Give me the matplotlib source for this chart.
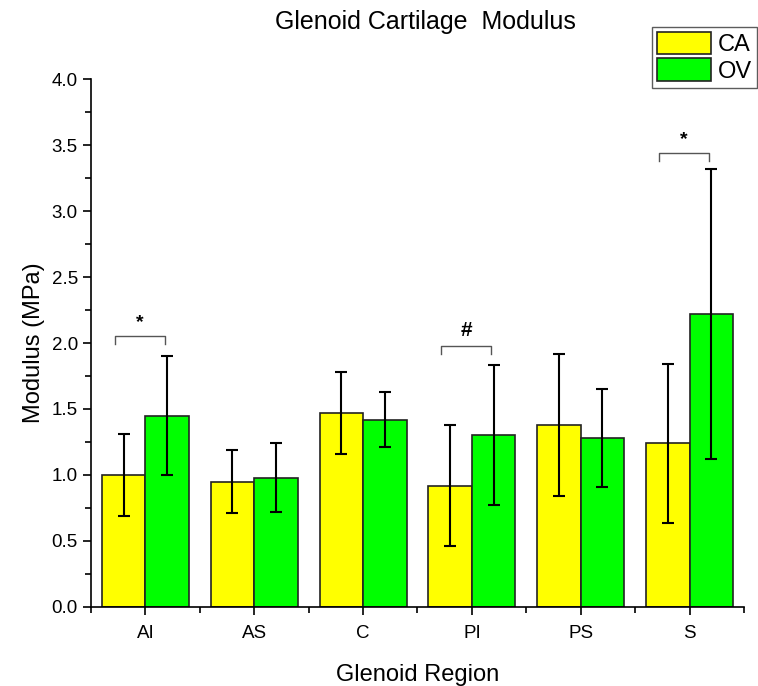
# Glenoid cartilage modulus, CA vs OV, grouped bars with SD error bars
import numpy as np
import matplotlib
matplotlib.use("Agg")
import matplotlib.pyplot as plt
from matplotlib.ticker import MultipleLocator

plt.rcParams['font.family'] = ['Liberation Sans', 'DejaVu Sans']

regions = ['AI', 'AS', 'C', 'PI', 'PS', 'S']
ca_mean = [1.00, 0.95, 1.47, 0.92, 1.38, 1.24]
ca_sd = [0.31, 0.24, 0.31, 0.46, 0.54, 0.60]
ov_mean = [1.45, 0.98, 1.42, 1.30, 1.28, 2.22]
ov_sd = [0.45, 0.26, 0.21, 0.53, 0.37, 1.10]

# significance markers: region index, bracket height, symbol
sig_idx = [0, 3, 5]
sig_y = [2.05, 1.98, 3.44]
sig_sym = ['*', '#', '*']

fig = plt.figure(figsize=(7.58, 6.86), dpi=100)
ax = fig.add_axes([0.12, 0.1152, 0.8615, 0.7696])

x = np.arange(len(regions))
w = 0.4
ax.bar(x - w/2, ca_mean, w, color='#ffff00', edgecolor='#222222', lw=1.2, label='CA', zorder=2)
ax.bar(x + w/2, ov_mean, w, color='#00ff00', edgecolor='#222222', lw=1.2, label='OV', zorder=2)
ax.errorbar(x - w/2, ca_mean, yerr=ca_sd, fmt='none', ecolor='black', elinewidth=1.5,
            capsize=4, capthick=1.5, zorder=3)
ax.errorbar(x + w/2, ov_mean, yerr=ov_sd, fmt='none', ecolor='black', elinewidth=1.5,
            capsize=4, capthick=1.5, zorder=3)

for i, yb, s in zip(sig_idx, sig_y, sig_sym):
    xl, xr = i - 0.28, i + 0.18
    ax.plot([xl, xl, xr, xr], [yb - 0.06, yb, yb, yb - 0.06], color='#555555', lw=1, zorder=3)
    ax.text(i - 0.05, yb + 0.04, s, ha='center', va='bottom', fontsize=14 if s == '*' else 15,
            fontweight='bold')

ax.set_xlim(-0.5, 5.5)
ax.set_ylim(0, 4.0)
ax.set_xticks(x)
ax.set_xticklabels(regions, fontsize=13.5)
ax.xaxis.set_minor_locator(MultipleLocator(1, offset=0.5))
ax.yaxis.set_major_locator(MultipleLocator(0.5))
ax.yaxis.set_minor_locator(MultipleLocator(0.25))
ax.yaxis.set_major_formatter(matplotlib.ticker.FormatStrFormatter('%.1f'))
ax.tick_params(axis='y', labelsize=13.5)
ax.tick_params(axis='x', pad=7)
ax.tick_params(which='major', direction='out', length=6, width=1.2)
ax.tick_params(which='minor', direction='out', length=4, width=1.2)
ax.spines['top'].set_visible(False)
ax.spines['right'].set_visible(False)
for sp in ['left', 'bottom']:
    ax.spines[sp].set_linewidth(1.2)

ax.set_xlabel('Glenoid Region', fontsize=17, labelpad=16)
ax.set_ylabel('Modulus (MPa)', fontsize=17, labelpad=5)
fig.text(425 / 758, 1 - 22 / 686, 'Glenoid Cartilage  Modulus', ha='center', va='center', fontsize=18)

fig.legend(loc='upper left', bbox_to_anchor=(652 / 758, 1 - 27 / 686), fontsize=17,
           frameon=True, fancybox=False, edgecolor='#333333', borderpad=0.2,
           handlelength=2.3, handleheight=1.1, handletextpad=0.3, labelspacing=0.1,
           borderaxespad=0)

fig.savefig('out.png', dpi=100)
